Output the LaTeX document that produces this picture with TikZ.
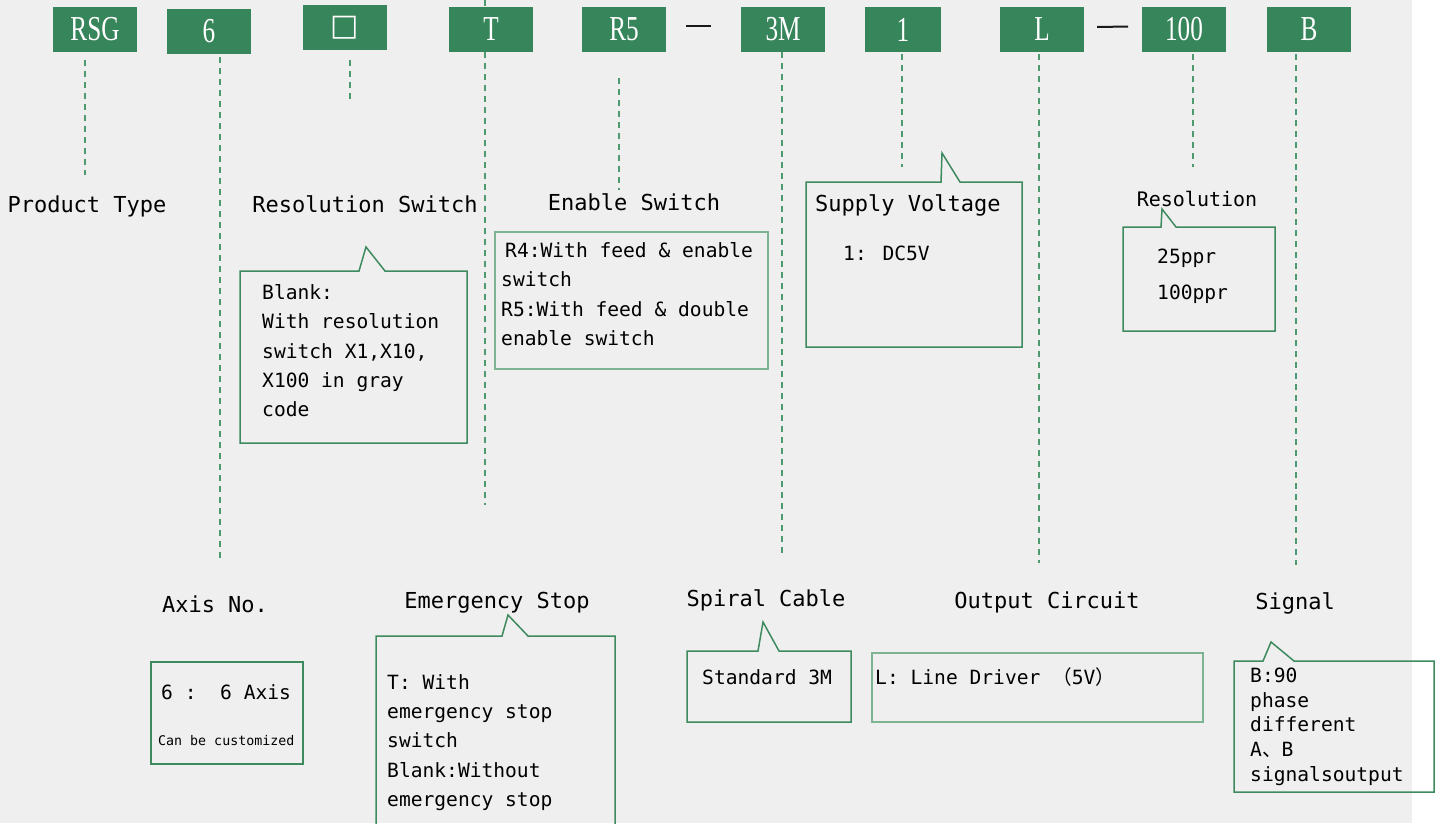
\documentclass[tikz,border=0pt]{standalone}
\usepackage{fontspec}
\newfontfamily\headfont[FakeStretch=0.72]{Liberation Serif}
\newfontfamily\codefont{DejaVu Sans Mono}
\newfontfamily\symfont{DejaVu Sans}
\newfontfamily\cjk{Noto Sans CJK SC}

\definecolor{bggray}{HTML}{EFEFEF}
\definecolor{hdgreen}{HTML}{37855A}
\definecolor{boxgreen}{HTML}{3D8A5E}
\definecolor{palegreen}{HTML}{7DB593}
\definecolor{guidegreen}{HTML}{4E9A70}

\tikzset{
  hdbox/.style={fill=hdgreen, text=white, minimum width=84pt, minimum height=45pt,
    inner sep=0pt, font=\headfont\fontsize{35}{35}\selectfont},
  guide/.style={draw=guidegreen, line width=2pt, dash pattern=on 6pt off 5pt},
  label/.style={font=\codefont\fontsize{22}{22}\selectfont, anchor=base, inner sep=0pt},
  boxtext/.style={font=\codefont\fontsize{19.6}{29.4}\selectfont, align=left,
    anchor=north west, inner sep=0pt, execute at begin node={\rule{0pt}{16pt}}},
  bubble/.style={draw=boxgreen, line width=1.5pt, line join=miter},
  dashbar/.style={line width=2pt, black!90}
}

\begin{document}
\begin{tikzpicture}[x=1pt, y=-1pt]
    \useasboundingbox (0,0) rectangle (1442,823);
    \fill[bggray] (0,0) rectangle (1412,823);

    % Model code
    \node[hdbox] (hRSG) at (95,29.5) {RSG};
    \node[hdbox] (h6) at (209,31.5) {6};
    \node[hdbox, font=\symfont\fontsize{30}{30}\selectfont] (hSq) at (345,27.5) {□};
    \node[hdbox] (hT) at (491,29.5) {T};
    \node[hdbox] (hR5) at (624,29.5) {R5};
    \node[hdbox] (h3M) at (783,29.5) {3M};
    \node[hdbox, minimum width=76pt] (h1) at (903,29.5) {1};
    \node[hdbox] (hL) at (1042,29.5) {L};
    \node[hdbox] (h100) at (1184,29.5) {100};
    \node[hdbox] (hB) at (1309,29.5) {B};
    \draw[dashbar] (686,26) -- (711,26);
    \draw[dashbar] (1097,27) -- (1128,26.5);

    % Guide lines
    \coordinate (gRSG) at (85,175);
    \coordinate (g6) at (220,562);
    \coordinate (gSq) at (350,100);
    \coordinate (gTtop) at (485,0);
    \coordinate (gT) at (485,505);
    \coordinate (gR5) at (619,190);
    \coordinate (g3M) at (782,558);
    \coordinate (g1) at (902,167);
    \coordinate (gL) at (1039,563);
    \coordinate (g100) at (1193,167);
    \coordinate (gB) at (1296,565);
    \draw[guide, shorten <=8pt] (hRSG.south -| gRSG) -- (gRSG);
    \draw[guide, shorten <=3pt] (h6.south -| g6) -- (g6);
    \draw[guide, shorten <=10pt] (hSq.south -| gSq) -- (gSq);
    \draw[guide] (gTtop) -- (hT.north -| gTtop);
    \draw[guide] (hT.south -| gT) -- (gT);
    \draw[guide, shorten <=26pt] (hR5.south -| gR5) -- (gR5);
    \draw[guide] (h3M.south -| g3M) -- (g3M);
    \draw[guide, shorten <=2pt] (h1.south -| g1) -- (g1);
    \draw[guide, shorten <=2pt] (hL.south -| gL) -- (gL);
    \draw[guide, shorten <=2pt] (h100.south -| g100) -- (g100);
    \draw[guide, shorten <=2pt] (hB.south -| gB) -- (gB);

    % Upper row
    \node[label] (lProduct) at (87,212) {Product Type};
    \node[label] (lResSw) at (365,212) {Resolution Switch};
    \node[label] (lEnable) at (634,210) {Enable Switch};
    \node[label, anchor=base west] (lSupply) at (815,211) {Supply Voltage};
    \node[label, font=\codefont\fontsize{20}{20}\selectfont] (lResol) at (1197,206) {Resolution};

    \draw[bubble] (240,271) -- (359,271) -- (366,247) -- (385,271) -- (467,271)
        -- (467,443) -- (240,443) -- cycle;
    \node[boxtext] (tResSw) at (262,284)
        {Blank:\\With resolution\\switch X1,X10,\\X100 in gray\\code};

    \draw[bubble, draw=palegreen] (495,232) rectangle (768,369);
    \node[boxtext] (tEnable) at (501,242)
        {\hspace{4pt}R4:With feed \& enable\\switch\\R5:With feed \& double\\enable switch};

    \draw[bubble] (806,182) -- (941,182) -- (942,153) -- (960,182) -- (1022,182)
        -- (1022,347) -- (806,347) -- cycle;
    \node[boxtext] (tSupply) at (843,244) {1: DC5V};

    \draw[bubble] (1123,227) -- (1161,227) -- (1162,209) -- (1176,227) -- (1275,227)
        -- (1275,331) -- (1123,331) -- cycle;
    \node[boxtext, font=\codefont\fontsize{19.6}{36}\selectfont] (tResol) at (1157,249)
        {25ppr\\100ppr};

    % Lower row
    \node[label] (lAxis) at (215,612) {Axis No.};
    \node[label] (lEmerg) at (497,608) {Emergency Stop};
    \node[label] (lSpiral) at (766,606) {Spiral Cable};
    \node[label] (lOutput) at (1047,608) {Output Circuit};
    \node[label] (lSignal) at (1295,609) {Signal};

    \draw[bubble] (151,662) rectangle (303,764);
    \node[boxtext] (tAxis) at (161,683) {6 :\ \ 6 Axis};
    \node[boxtext, anchor=base west, font=\codefont\fontsize{13.3}{13.3}\selectfont]
        (tAxisNote) at (158,745) {Can be customized};

    \draw[bubble] (376,636) -- (502,636) -- (508,615) -- (528,636) -- (615,636)
        -- (615,830) -- (376,830) -- cycle;
    \node[boxtext] (tEmerg) at (387,674)
        {T: With\\emergency stop\\switch\\Blank:Without\\emergency stop};

    \draw[bubble] (687,651) -- (758,651) -- (763,622) -- (779,651) -- (851,651)
        -- (851,722) -- (687,722) -- cycle;
    \node[boxtext] (tSpiral) at (702,668) {Standard 3M};

    \draw[bubble, draw=palegreen] (872,653) rectangle (1203,722);
    \node[boxtext] (tOutput) at (875,668) {L: Line Driver {\cjk （}5V{\cjk ）}};

    \draw[bubble] (1234,661) -- (1263,661) -- (1271,642) -- (1294,661) -- (1434,661)
        -- (1434,792) -- (1234,792) -- cycle;
    \node[boxtext, font=\codefont\fontsize{19.6}{24.6}\selectfont] (tSignal) at (1250,668)
        {B:90\\phase\\different\\A{\cjk 、}B\\signalsoutput};
\end{tikzpicture}
\end{document}
